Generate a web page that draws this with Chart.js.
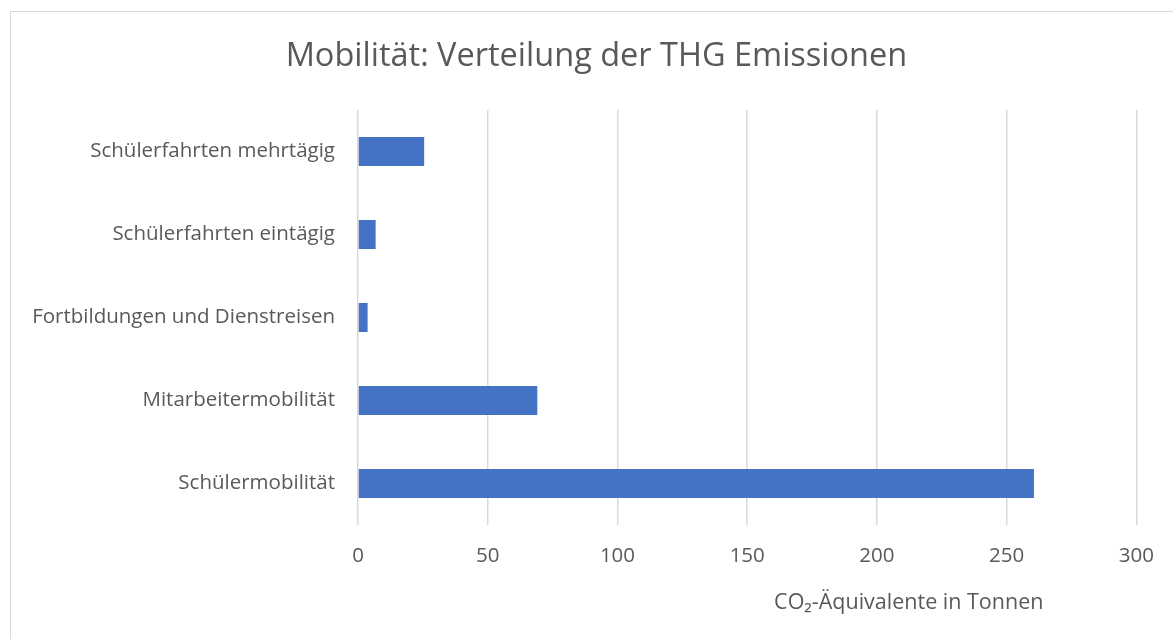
<!DOCTYPE html>
<html lang="de">
<head>
    <meta charset="UTF-8">
    <title>Mobilität: Verteilung der THG Emissionen</title>
    <script src="https://cdn.jsdelivr.net/npm/chart.js@4.4.0/dist/chart.umd.min.js"></script>
    <style>
        body {
            margin: 0;
            padding: 0;
            background-color: #fff;
            overflow: hidden;
        }

        .frame {
            position: absolute;
            left: 10px;
            top: 11px;
            width: 1200px;
            height: 700px;
            border: 1px solid #d9d9d9;
        }

        .wrap {
            position: absolute;
            left: 0;
            top: 0;
            width: 1173px;
            height: 639px;
        }
    </style>
</head>

<body>
    <div class="frame"></div>
    <div class="wrap">
        <canvas id="chartCanvas"></canvas>
    </div>

    <script>
        const categories = [
            'Schülerfahrten mehrtägig',
            'Schülerfahrten eintägig',
            'Fortbildungen und Dienstreisen',
            'Mitarbeitermobilität',
            'Schülermobilität'
        ];
        const emissions = [25.5, 6.8, 3.7, 69.1, 260.5];
        const xTicks = [0, 50, 100, 150, 200, 250, 300];

        const textColor = '#595959';
        const fontFamily = "'Open Sans', 'DejaVu Sans', sans-serif";

        // chart title and axis title are both off-centre in the original,
        // so they are drawn by hand relative to the plot area
        const titles = {
            id: 'titles',
            afterDraw(chart) {
                const { ctx, chartArea } = chart;
                ctx.save();
                ctx.fillStyle = textColor;
                ctx.textBaseline = 'middle';

                ctx.font = `32.5px ${fontFamily}`;
                ctx.textAlign = 'center';
                ctx.fillText('Mobilität: Verteilung der THG Emissionen', chartArea.right - 540, chartArea.top - 53);

                ctx.font = `21.5px ${fontFamily}`;
                ctx.textAlign = 'right';
                ctx.fillText('CO₂-Äquivalente in Tonnen', chartArea.right - 93, chartArea.bottom + 78);
                ctx.restore();
            }
        };

        new Chart(document.getElementById('chartCanvas'), {
            type: 'bar',
            data: {
                labels: categories,
                datasets: [{
                    data: emissions,
                    backgroundColor: '#4472c4',
                    borderWidth: 0,
                    categoryPercentage: 1,
                    barPercentage: 0.35
                }]
            },
            options: {
                indexAxis: 'y',
                responsive: true,
                maintainAspectRatio: false,
                animation: false,
                layout: {
                    padding: { top: 110, right: 35, bottom: 0, left: 0 }
                },
                plugins: {
                    legend: { display: false },
                    tooltip: { enabled: false },
                    title: { display: false }
                },
                scales: {
                    x: {
                        min: 0,
                        max: 300,
                        afterBuildTicks(scale) {
                            scale.ticks = xTicks.map(v => ({ value: v }));
                        },
                        afterFit(scale) {
                            scale.height = 114;
                        },
                        border: { display: false },
                        grid: {
                            color: '#d9d9d9',
                            lineWidth: 1.5,
                            drawTicks: false
                        },
                        ticks: {
                            color: textColor,
                            padding: 19,
                            font: { family: fontFamily, size: 20.5 }
                        }
                    },
                    y: {
                        afterFit(scale) {
                            scale.width = 358;
                        },
                        border: { display: false },
                        grid: { display: false, drawTicks: false },
                        ticks: {
                            color: textColor,
                            padding: 23,
                            font: { family: fontFamily, size: 20.5 }
                        }
                    }
                }
            },
            plugins: [titles]
        });
    </script>
</body>

</html>
